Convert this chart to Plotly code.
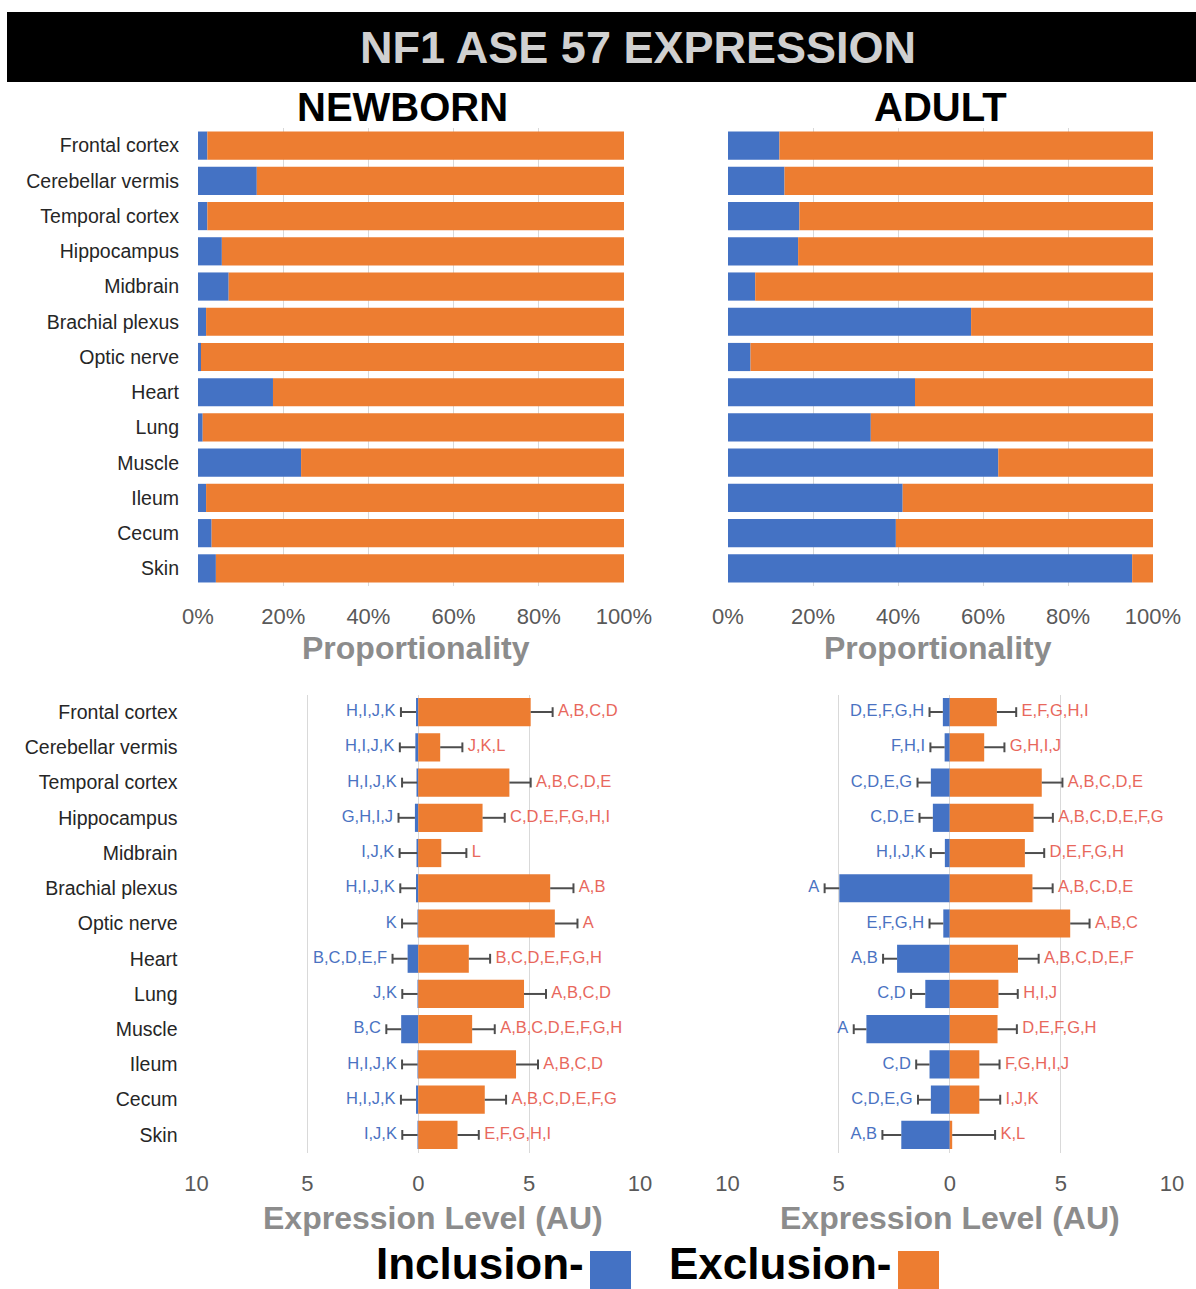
import plotly.graph_objects as go

# Tissues, listed top to bottom
tissues = ["Frontal cortex", "Cerebellar vermis", "Temporal cortex", "Hippocampus",
           "Midbrain", "Brachial plexus", "Optic nerve", "Heart", "Lung", "Muscle",
           "Ileum", "Cecum", "Skin"]

# Share of inclusion isoform (%), exclusion is the remainder
newborn_incl_pct = [2.2, 13.8, 2.2, 5.6, 7.2, 1.9, 0.7, 17.6, 1.1, 24.2, 1.9, 3.2, 4.2]
adult_incl_pct = [12.1, 13.3, 16.8, 16.5, 6.4, 57.2, 5.3, 44.0, 33.6, 63.6, 41.1, 39.5, 95.1]

# Expression levels (AU) with error
newborn_incl = [0.10, 0.13, 0.05, 0.15, 0.05, 0.10, 0.03, 0.48, 0.03, 0.77, 0.03, 0.10, 0.03]
newborn_incl_err = [0.68, 0.70, 0.68, 0.74, 0.79, 0.71, 0.70, 0.68, 0.69, 0.67, 0.70, 0.68, 0.69]
newborn_excl = [5.07, 0.99, 4.11, 2.90, 1.04, 5.95, 6.16, 2.28, 4.77, 2.43, 4.41, 3.00, 1.77]
newborn_excl_err = [0.99, 1.00, 0.96, 1.00, 1.13, 1.05, 1.02, 0.96, 0.99, 1.02, 0.99, 0.96, 0.96]

adult_incl = [0.31, 0.23, 0.85, 0.76, 0.22, 4.97, 0.29, 2.37, 1.10, 3.75, 0.91, 0.85, 2.18]
adult_incl_err = [0.60, 0.64, 0.60, 0.60, 0.63, 0.66, 0.62, 0.63, 0.64, 0.57, 0.60, 0.58, 0.85]
adult_excl = [2.12, 1.55, 4.14, 3.77, 3.38, 3.72, 5.42, 3.07, 2.19, 2.15, 1.33, 1.33, 0.11]
adult_excl_err = [0.87, 0.91, 0.93, 0.87, 0.87, 0.91, 0.87, 0.93, 0.87, 0.87, 0.91, 0.94, 1.93]

# Significance letters
newborn_incl_sig = ["H,I,J,K", "H,I,J,K", "H,I,J,K", "G,H,I,J", "I,J,K", "H,I,J,K", "K",
                    "B,C,D,E,F", "J,K", "B,C", "H,I,J,K", "H,I,J,K", "I,J,K"]
newborn_excl_sig = ["A,B,C,D", "J,K,L", "A,B,C,D,E", "C,D,E,F,G,H,I", "L", "A,B", "A",
                    "B,C,D,E,F,G,H", "A,B,C,D", "A,B,C,D,E,F,G,H", "A,B,C,D",
                    "A,B,C,D,E,F,G", "E,F,G,H,I"]
adult_incl_sig = ["D,E,F,G,H", "F,H,I", "C,D,E,G", "C,D,E", "H,I,J,K", "A", "E,F,G,H",
                  "A,B", "C,D", "A", "C,D", "C,D,E,G", "A,B"]
adult_excl_sig = ["E,F,G,H,I", "G,H,I,J", "A,B,C,D,E", "A,B,C,D,E,F,G", "D,E,F,G,H",
                  "A,B,C,D,E", "A,B,C", "A,B,C,D,E,F", "H,I,J", "D,E,F,G,H", "F,G,H,I,J",
                  "I,J,K", "K,L"]

BLUE = "#4472C4"
ORANGE = "#ED7D31"
BLUE_TXT = "#4A72C2"
RED_TXT = "#E8675C"
ERR = "#4d4d4d"
FONT = "Liberation Sans, Arial, sans-serif"

W, H = 1196, 1289


def px_x(x):
    return x / W


def px_y(y):
    return 1 - y / H


fig = go.Figure()

# --- proportion panels (stacked to 100%) ---
for idx, incl in ((1, newborn_incl_pct), (2, adult_incl_pct)):
    ax = "" if idx == 1 else str(idx)
    excl = [100 - v for v in incl]
    fig.add_trace(go.Bar(y=tissues, x=incl, orientation="h", marker_color=BLUE,
                         marker_line_width=0, xaxis="x" + ax, yaxis="y" + ax, showlegend=False))
    fig.add_trace(go.Bar(y=tissues, x=excl, orientation="h", marker_color=ORANGE,
                         marker_line_width=0, xaxis="x" + ax, yaxis="y" + ax, showlegend=False))

# --- expression panels (inclusion drawn to the left of zero) ---
panels = [
    (3, newborn_incl, newborn_incl_err, newborn_excl, newborn_excl_err, newborn_incl_sig, newborn_excl_sig),
    (4, adult_incl, adult_incl_err, adult_excl, adult_excl_err, adult_incl_sig, adult_excl_sig),
]
for idx, inc, inc_e, exc, exc_e, inc_s, exc_s in panels:
    xa, ya = "x" + str(idx), "y" + str(idx)
    neg = [-v for v in inc]
    fig.add_trace(go.Bar(y=tissues, x=neg, orientation="h", marker_color=BLUE,
                         marker_line_width=0, xaxis=xa, yaxis=ya, showlegend=False,
                         error_x=dict(type="data", symmetric=False, array=[0] * len(inc),
                                      arrayminus=inc_e, width=0, thickness=2, color=ERR)))
    fig.add_trace(go.Bar(y=tissues, x=exc, orientation="h", marker_color=ORANGE,
                         marker_line_width=0, xaxis=xa, yaxis=ya, showlegend=False,
                         error_x=dict(type="data", symmetric=False, array=exc_e,
                                      arrayminus=[0] * len(exc), width=0, thickness=2, color=ERR)))
    # whisker caps carrying the significance letters
    fig.add_trace(go.Scatter(y=tissues, x=[-(v + e) for v, e in zip(inc, inc_e)],
                             mode="markers+text", text=inc_s, textposition="middle left",
                             textfont=dict(color=BLUE_TXT, size=16.5, family=FONT),
                             marker=dict(symbol="line-ns", size=7, line=dict(width=2, color=ERR)),
                             xaxis=xa, yaxis=ya, showlegend=False, cliponaxis=False))
    fig.add_trace(go.Scatter(y=tissues, x=[v + e for v, e in zip(exc, exc_e)],
                             mode="markers+text", text=exc_s, textposition="middle right",
                             textfont=dict(color=RED_TXT, size=16.5, family=FONT),
                             marker=dict(symbol="line-ns", size=7, line=dict(width=2, color=ERR)),
                             xaxis=xa, yaxis=ya, showlegend=False, cliponaxis=False))

top_y = [px_y(586), px_y(128)]
bot_y = [px_y(1152.5), px_y(694.5)]
cat_range = [len(tissues) - 0.5, -0.5]  # first tissue on top

common_x = dict(showgrid=True, gridcolor="#d9d9d9", gridwidth=1, zeroline=False,
                showline=False, ticks="", tickfont=dict(size=22, color="#595959", family=FONT),
                fixedrange=True, automargin=False, ticklabelstandoff=15)
common_y = dict(range=cat_range, autorange=False, showgrid=False, zeroline=False,
                showline=False, ticks="", automargin=False, fixedrange=True)
ylabels = dict(tickfont=dict(size=19.5, color="#262626", family=FONT), ticklabelstandoff=18)

pct_ticks = dict(range=[0, 100], tickvals=[0, 20, 40, 60, 80, 100],
                 ticktext=["0%", "20%", "40%", "60%", "80%", "100%"])
au_ticks = dict(range=[-10, 10], tickvals=[-10, -5, 0, 5, 10],
                ticktext=["10", "5", "0", "5", "10"])

fig.update_layout(
    width=W, height=H, margin=dict(l=0, r=0, t=0, b=0, pad=0, autoexpand=False),
    paper_bgcolor="white", plot_bgcolor="white",
    barmode="relative", bargap=0.2,
    font=dict(family=FONT),
    xaxis=dict(domain=[px_x(198), px_x(624)], anchor="y", **pct_ticks, **common_x),
    yaxis=dict(domain=top_y, anchor="x", **common_y, **ylabels),
    xaxis2=dict(domain=[px_x(728), px_x(1153)], anchor="y2", **pct_ticks, **common_x),
    yaxis2=dict(domain=top_y, anchor="x2", showticklabels=False, **common_y),
    xaxis3=dict(domain=[px_x(196.5), px_x(640)], anchor="y3", **au_ticks, **common_x),
    yaxis3=dict(domain=bot_y, anchor="x3", **common_y, **ylabels),
    xaxis4=dict(domain=[px_x(727.5), px_x(1172)], anchor="y4", **au_ticks, **common_x),
    yaxis4=dict(domain=bot_y, anchor="x4", showticklabels=False, **common_y),
)

# Title banner
fig.add_shape(type="rect", xref="paper", yref="paper", x0=px_x(7), x1=1.0,
              y0=px_y(82), y1=px_y(12), fillcolor="black", line_width=0, layer="below")


def label(text, x, y, size, color, bold=True, xanchor="center"):
    t = "<b>" + text + "</b>" if bold else text
    fig.add_annotation(text=t, x=px_x(x), y=px_y(y), xref="paper", yref="paper",
                       showarrow=False, xanchor=xanchor, yanchor="middle",
                       font=dict(size=size, color=color, family=FONT))


label("NF1 ASE 57 EXPRESSION", 638, 47, 45, "#d0d0d0")
label("NEWBORN", 402, 107, 40, "black")
label("ADULT", 940, 107, 40, "black")
label("Proportionality", 416, 648, 32, "#8c8c8c")
label("Proportionality", 938, 648, 32, "#8c8c8c")
label("Expression Level (AU)", 433, 1218, 32, "#8c8c8c")
label("Expression Level (AU)", 950, 1218, 32, "#8c8c8c")

# Legend
label("Inclusion-", 586, 1263, 44, "black", xanchor="right")
label("Exclusion-", 894, 1263, 44, "black", xanchor="right")
fig.add_shape(type="rect", xref="paper", yref="paper", x0=px_x(590), x1=px_x(631),
              y0=px_y(1292), y1=px_y(1251), fillcolor=BLUE, line_width=0)
fig.add_shape(type="rect", xref="paper", yref="paper", x0=px_x(898), x1=px_x(939),
              y0=px_y(1292), y1=px_y(1251), fillcolor=ORANGE, line_width=0)

fig.write_html("out.html")
